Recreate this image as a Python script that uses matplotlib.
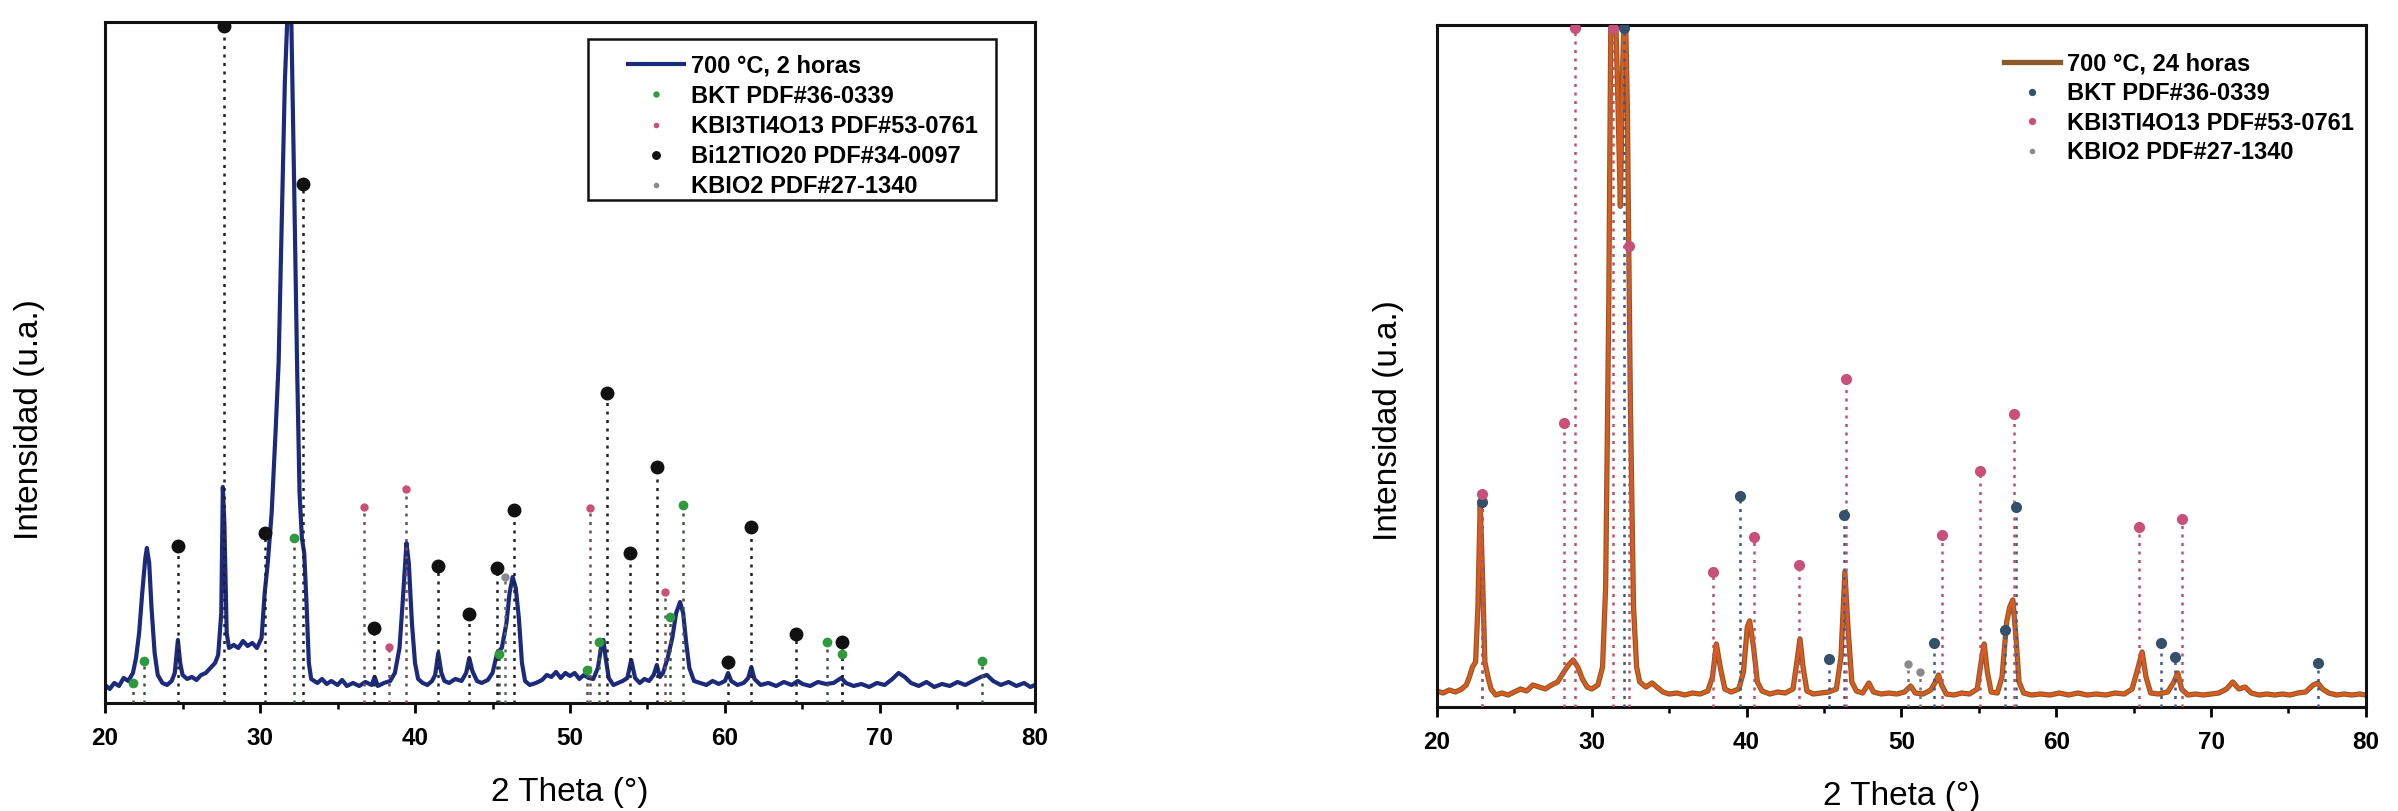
import matplotlib
matplotlib.use('Agg')
import matplotlib.pyplot as plt
from matplotlib.patches import Rectangle

plt.rcParams['font.family'] = ['Liberation Sans', 'DejaVu Sans']

# ---------------- data ----------------
x_ticks = [20, 30, 40, 50, 60, 70, 80]

# left pattern: 700 °C, 2 horas  (2theta, intensity a.u.)
left_2theta = [20.0, 20.3, 20.6, 20.9, 21.2, 21.5, 21.8, 22.0, 22.2, 22.4, 22.6, 22.7, 22.85, 23.0, 23.2,
               23.4, 23.7, 24.0, 24.3, 24.5, 24.7, 24.85, 25.0, 25.3, 25.6, 25.9, 26.2, 26.5, 26.8, 27.1,
               27.3, 27.5, 27.6, 27.7, 27.85, 28.0, 28.3, 28.6, 28.9, 29.2, 29.5, 29.8, 30.1, 30.3, 30.5,
               30.75, 31.0, 31.2, 31.4, 31.6, 31.8, 32.0, 32.2, 32.4, 32.55, 32.7, 32.85, 33.0, 33.15, 33.3,
               33.7, 34.0, 34.3, 34.6, 35.0, 35.3, 35.6, 36.0, 36.4, 36.8, 37.2, 37.4, 37.6, 38.0, 38.4,
               38.7, 39.0, 39.2, 39.45, 39.6, 39.8, 40.0, 40.2, 40.5, 40.8, 41.1, 41.3, 41.5, 41.7, 41.9,
               42.2, 42.6, 43.0, 43.3, 43.5, 43.7, 44.0, 44.3, 44.7, 45.0, 45.3, 45.6, 45.9, 46.1, 46.3,
               46.5, 46.7, 46.9, 47.1, 47.4, 47.8, 48.2, 48.5, 48.8, 49.1, 49.4, 49.7, 50.0, 50.3, 50.6,
               50.9, 51.2, 51.5, 51.8, 52.0, 52.15, 52.3, 52.5, 52.8, 53.1, 53.4, 53.7, 53.95, 54.2, 54.5,
               54.8, 55.1, 55.4, 55.6, 55.8, 56.0, 56.3, 56.6, 56.85, 57.1, 57.3, 57.5, 57.7, 58.0, 58.4,
               58.8, 59.2, 59.6, 60.0, 60.2, 60.4, 60.8, 61.2, 61.5, 61.7, 61.9, 62.3, 62.8, 63.3, 63.8,
               64.3, 64.7, 65.0, 65.5, 66.0, 66.5, 67.0, 67.5, 67.8, 68.3, 68.8, 69.3, 69.8, 70.3, 70.8,
               71.2, 71.6, 72.0, 72.5, 73.0, 73.5, 74.0, 74.5, 75.0, 75.5, 76.0, 76.5, 76.9, 77.3, 77.8,
               78.3, 78.8, 79.3, 79.7, 80.0]
left_int = [18, 14, 20, 17, 25, 22, 30, 45, 70, 110, 145, 155, 140, 95, 50,
            28, 20, 18, 22, 30, 63, 40, 28, 24, 26, 23, 28, 30, 35, 40,
            48, 90, 216, 180, 70, 55, 58, 55, 62, 57, 60, 55, 65, 110, 140,
            190, 270, 340, 480, 620, 700, 700, 520, 330, 210, 165, 150, 100, 40, 24,
            20, 24, 19, 22, 18, 23, 17, 20, 17, 21, 18, 26, 17, 20, 22,
            30, 55, 100, 160, 140, 80, 40, 24, 20, 18, 22, 28, 50, 30, 22,
            20, 24, 22, 30, 45, 32, 22, 20, 23, 30, 50, 55, 80, 110, 126,
            115, 85, 40, 22, 18, 20, 23, 28, 26, 31, 25, 30, 27, 30, 24,
            28, 25, 24, 35, 55, 63, 45, 25, 18, 20, 22, 25, 43, 25, 20,
            24, 22, 28, 38, 26, 30, 45, 65, 90, 101, 90, 60, 35, 22, 20,
            18, 22, 19, 22, 30, 22, 18, 20, 25, 36, 24, 18, 20, 17, 21,
            18, 22, 19, 17, 21, 19, 20, 25, 20, 17, 19, 16, 20, 18, 24,
            30, 26, 20, 17, 21, 16, 19, 17, 21, 18, 22, 26, 28, 22, 18,
            21, 17, 20, 16, 18]

# reference reflections, left panel (position, marker height)
left_bkt_pos = [21.8, 22.5, 32.2, 45.4, 51.1, 51.9, 56.45, 57.3, 66.55, 67.55, 76.6]
left_bkt_h = [20, 42, 165, 49, 33, 61, 86, 198, 61, 49, 42]
left_kbt_pos = [36.7, 38.3, 39.4, 51.3, 56.1]
left_kbt_h = [196, 56, 214, 195, 111]
left_bi_pos = [24.7, 27.7, 30.3, 32.8, 37.35, 41.5, 43.5, 45.3, 46.4, 52.4, 53.9, 55.6, 60.2, 61.7, 64.6, 67.55]
left_bi_h = [157, 677, 170, 519, 75, 137, 89, 135, 193, 310, 150, 236, 41, 176, 69, 61]
left_kbo_pos = [45.8]
left_kbo_h = [126]

# right pattern: 700 °C, 24 horas
right_2theta = [20.0, 20.4, 20.8, 21.2, 21.6, 21.9, 22.1, 22.3, 22.5, 22.65, 22.8, 22.95, 23.1, 23.3, 23.5,
                23.8, 24.2, 24.6, 25.0, 25.4, 25.8, 26.2, 26.6, 27.0, 27.4, 27.8, 28.2, 28.5, 28.8, 29.1,
                29.4, 29.7, 30.0, 30.4, 30.7, 30.9, 31.1, 31.25, 31.5, 31.7, 31.85, 32.0, 32.15, 32.3, 32.5,
                32.7, 32.9, 33.1, 33.5, 33.9, 34.2, 34.6, 35.0, 35.5, 36.0, 36.5, 37.0, 37.5, 37.8, 38.05,
                38.3, 38.6, 39.0, 39.5, 39.8, 40.05, 40.2, 40.45, 40.7, 41.0, 41.5, 42.0, 42.5, 43.0, 43.25,
                43.45, 43.65, 43.9, 44.3, 44.8, 45.3, 45.8, 46.1, 46.35, 46.55, 46.8, 47.1, 47.5, 47.9, 48.2,
                48.7, 49.2, 49.7, 50.2, 50.6, 50.9, 51.4, 51.9, 52.2, 52.4, 52.6, 52.9, 53.4, 53.9, 54.4,
                54.9, 55.15, 55.35, 55.55, 55.8, 56.2, 56.5, 56.8, 57.0, 57.2, 57.4, 57.6, 57.9, 58.4, 59.0,
                59.6, 60.2, 60.8, 61.4, 62.0, 62.6, 63.2, 63.8, 64.4, 64.9, 65.3, 65.55, 65.8, 66.1, 66.6,
                67.2, 67.6, 67.85, 68.1, 68.5, 69.0, 69.5, 70.0, 70.5, 71.0, 71.4, 71.8, 72.2, 72.6, 73.1,
                73.6, 74.1, 74.6, 75.1, 75.6, 76.1, 76.6, 76.9, 77.2, 77.6, 78.1, 78.6, 79.1, 79.6, 80.0]
right_int = [16, 14, 17, 15, 18, 22, 30, 40, 45, 100, 205, 130, 45, 30, 18,
             12, 14, 12, 15, 18, 16, 22, 20, 18, 22, 25, 35, 42, 47, 40,
             28, 20, 18, 22, 40, 120, 400, 720, 720, 600, 500, 640, 720, 600, 300,
             100, 40, 25, 20, 24, 20, 15, 13, 14, 12, 14, 13, 16, 30, 63,
             40, 18, 15, 18, 35, 80, 86, 60, 25, 16, 13, 15, 14, 18, 45,
             68, 40, 16, 13, 14, 15, 18, 50, 135, 80, 25, 16, 14, 24, 15,
             13, 14, 13, 15, 21, 14, 13, 17, 25, 32, 22, 13, 12, 14, 13,
             18, 45, 63, 35, 15, 14, 30, 85, 100, 107, 70, 25, 14, 12, 13,
             12, 14, 12, 14, 12, 13, 12, 14, 13, 18, 40, 55, 30, 14, 13,
             15, 25, 34, 18, 12, 13, 12, 13, 14, 18, 25, 18, 20, 14, 12,
             13, 12, 13, 12, 14, 15, 22, 24, 18, 14, 12, 13, 12, 13, 12]

right_bkt_pos = [22.9, 32.1, 39.6, 45.3, 46.3, 52.1, 56.7, 57.4, 66.8, 67.7, 76.9]
right_bkt_h = [205, 678, 211, 48, 192, 64, 77, 200, 64, 50, 44]
right_kbt_pos = [22.9, 28.2, 28.9, 31.4, 32.4, 37.85, 40.5, 43.4, 46.4, 52.6, 55.1, 57.3, 65.35, 68.1]
right_kbt_h = [213, 284, 678, 678, 460, 135, 170, 142, 328, 172, 236, 293, 180, 188]
right_kbo_pos = [50.4, 51.2]
right_kbo_h = [43, 35]

# ---------------- figure ----------------
fig = plt.figure(figsize=(23.98, 8.11), dpi=100)
axL = fig.add_axes([0.0438, 0.1332, 0.3878, 0.8397])
axR = fig.add_axes([0.5992, 0.1282, 0.3874, 0.8409])

navy = '#1c2a7c'
orange = '#de5a1c'
brown = '#8a5a2a'
green = '#2e9a3e'
pink = '#c8507a'
black = '#111111'
gray = '#8a8a8a'
slate = '#34506a'

dots = (0, (1.2, 2.2))


def phase(ax, pos, h, mcolor, lcolor, ms, label):
    ax.vlines(pos, 0, h, colors=lcolor, linestyles=dots, linewidth=1.8, zorder=3)
    return ax.plot(pos, h, 'o', color=mcolor, ms=ms, ls='none', zorder=4, label=label)[0]


# left panel
lineL, = axL.plot(left_2theta, left_int, color=navy, lw=3.0, zorder=2, label='700 °C, 2 horas')
h1 = phase(axL, left_bkt_pos, left_bkt_h, green, '#3a5a3a', 6, 'BKT PDF#36-0339')
h2 = phase(axL, left_kbt_pos, left_kbt_h, pink, '#7a4a5a', 5, 'KBI3TI4O13 PDF#53-0761')
h3 = phase(axL, left_bi_pos, left_bi_h, black, '#222222', 9, 'Bi12TIO20 PDF#34-0097')
h4 = phase(axL, left_kbo_pos, left_kbo_h, gray, '#666666', 5, 'KBIO2 PDF#27-1340')

# right panel
axR.plot(right_2theta, right_int, color=brown, lw=3.8, zorder=2, label='700 °C, 24 horas')
axR.plot(right_2theta, right_int, color=orange, lw=2.2, zorder=2.1)
lineR = axR.get_lines()[0]
g1 = phase(axR, right_bkt_pos, right_bkt_h, slate, '#3a5a8a', 7, 'BKT PDF#36-0339')
g2 = phase(axR, right_kbt_pos, right_kbt_h, pink, '#c0506a', 7, 'KBI3TI4O13 PDF#53-0761')
g3 = phase(axR, right_kbo_pos, right_kbo_h, gray, '#777777', 5, 'KBIO2 PDF#27-1340')

for ax, ylab_xy in ((axL, (-0.065, 0.416)), (axR, (-0.035, 0.42))):
    ax.set_xlim(20, 80)
    ax.set_ylim(0, 681)
    ax.set_xticks(x_ticks)
    ax.set_xticks([25, 35, 45, 55, 65, 75], minor=True)
    ax.set_yticks([])
    ax.tick_params(axis='x', which='major', direction='out', length=7, width=2, pad=10)
    ax.tick_params(axis='x', which='minor', direction='out', length=4, width=1.8)
    for lab in ax.get_xticklabels():
        lab.set_fontsize(17.5)
        lab.set_fontweight('bold')
    for sp in ax.spines.values():
        sp.set_linewidth(2.2)
        sp.set_color('#111111')
    ax.set_xlabel('2 Theta (°)', fontsize=24, labelpad=20)
    ax.set_ylabel('Intensidad (u.a.)', fontsize=24)
    ax.yaxis.set_label_coords(*ylab_xy)

# left legend with a box
axL.add_patch(Rectangle((0.519, 0.7386), 0.439, 0.2364, transform=axL.transAxes,
                        fill=False, edgecolor='#111111', linewidth=1.8, zorder=5))
legL = axL.legend(handles=[lineL, h1, h2, h3, h4], loc='upper left', bbox_to_anchor=(0.5624, 0.952),
                  frameon=False, borderpad=0, borderaxespad=0, handlelength=2.35, handletextpad=0.3,
                  labelspacing=0.3, markerscale=0.6,
                  prop={'family': 'Liberation Sans', 'weight': 'bold', 'size': 17})

legR = axR.legend(handles=[lineR, g1, g2, g3], loc='upper left', bbox_to_anchor=(0.611, 0.96),
                  frameon=False, borderpad=0, borderaxespad=0, handlelength=2.35, handletextpad=0.3,
                  labelspacing=0.28, markerscale=0.6,
                  prop={'family': 'Liberation Sans', 'weight': 'bold', 'size': 17})

fig.savefig('out.png', dpi=100)
